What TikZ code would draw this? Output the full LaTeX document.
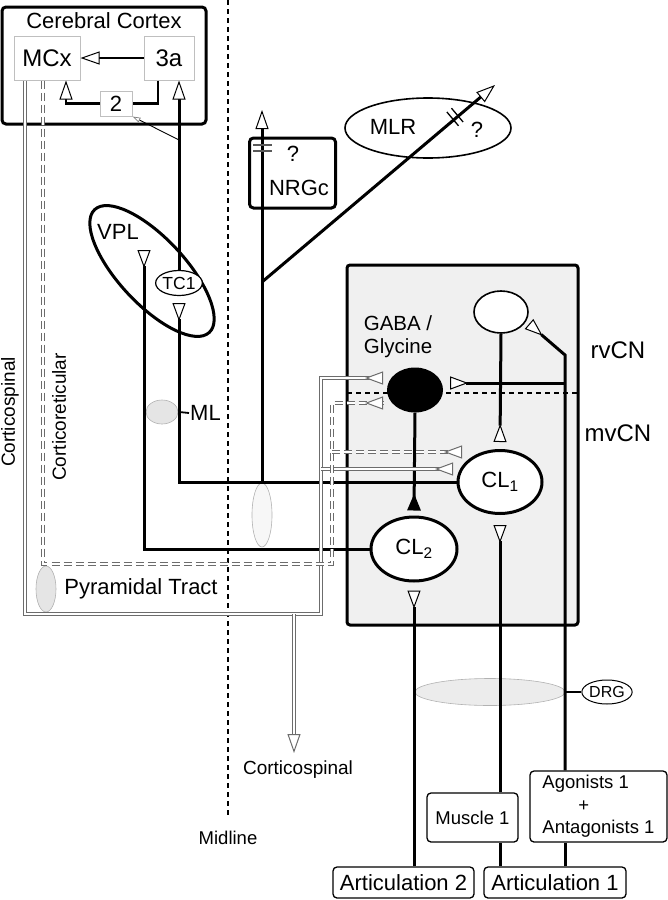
\documentclass[tikz,border=0pt]{standalone}
\usepackage{fontspec}
\setmainfont{Liberation Sans}
\usetikzlibrary{arrows.meta,shapes.geometric,calc}
\tikzset{
  axon/.style={line width=3pt},
  tract/.style={draw=gray!85!black, line width=1.2pt, double=white, double distance=2pt},
  rtract/.style={tract, dash pattern=on 8pt off 4pt},
  syn/.style={-{Triangle[length=19pt,width=13pt,fill=white,line width=1pt]}},
  term/.style={-{Triangle[reversed,length=18pt,width=13pt,fill=white,line width=1pt]}},
  inhib/.style={-{Triangle[reversed,length=17pt,width=13pt]}},
  area/.style={draw=gray!50, line width=1pt, fill=white, inner sep=0pt},
  cell/.style={ellipse, draw, line width=3pt, fill=white, inner sep=0pt},
  blob/.style={ellipse, draw=gray!60, fill=gray!20, line width=.6pt, inner sep=0pt},
  tagbox/.style={draw, rounded corners=4pt, line width=1.3pt, inner sep=0pt},
  bigfont/.style={font=\fontsize{22}{25}\selectfont},
  midfont/.style={font=\fontsize{18.5}{22.5}\selectfont},
}
\begin{document}
\begin{tikzpicture}[x=1pt,y=-1pt]
\useasboundingbox (0,0) rectangle (668,900);
% nucleus box
\node[draw, line width=3pt, fill=gray!12, rounded corners=3pt, minimum width=231pt, minimum height=360pt] (cn) at (462.5,445) {};
\coordinate (dv) at (347,393);
\draw[dash pattern=on 5pt off 4pt, line width=1.2pt] (dv) -- (dv -| cn.east);
\coordinate (midtop) at (228,0);
% cortex
\node[draw, line width=3pt, rounded corners=4pt, minimum width=204pt, minimum height=117pt] (cortex) at (104,65.5) {};
\node[bigfont] at (104,21) {Cerebral Cortex};
\node[area, font=\fontsize{24}{26}\selectfont, minimum width=66pt, minimum height=44pt] (mcx) at (47,58) {MCx};
\node[area, font=\fontsize{24}{26}\selectfont, minimum width=50pt, minimum height=44pt] (a3) at (169,58) {3a};
\node[area, bigfont, minimum width=32pt, minimum height=25pt] (s2) at (116,103.5) {2};
% brainstem targets
\node[draw, line width=3pt, rounded corners=4pt, minimum width=86pt, minimum height=70pt] (nrgc) at (292.5,173) {};
\node[bigfont] at (293,154) {?};
\node[bigfont] at (299,188) {NRGc};
\node[ellipse, draw, line width=1.6pt, minimum width=166pt, minimum height=60pt] (mlr) at (428,128) {};
\node[bigfont] at (393,127) {MLR};
\node[bigfont] at (477,130) {?};
% thalamus
\node[ellipse, draw, line width=3pt, minimum width=168pt, minimum height=66pt, rotate=-47] (vpl) at (152,271) {};
\node[bigfont] at (118,232) {VPL};
\node[ellipse, draw, line width=1.2pt, fill=white, inner sep=0pt, minimum width=43pt, minimum height=25pt, font=\fontsize{17.5}{19}\selectfont] (tc1) at (179,283) {TC1};
\node[blob, minimum width=32pt, minimum height=24pt] (ml) at (162,412) {};
\node[bigfont, inner sep=1pt, anchor=west] (mllab) at (189,413) {ML};
\node[blob, minimum width=20pt, minimum height=46pt] (pyr) at (46,589) {};
\node[bigfont] at (141,589) {Pyramidal Tract};
\node[blob, fill=gray!6, minimum width=20pt, minimum height=64pt] (mbb) at (262,515) {};
\node[font=\fontsize{19}{21}\selectfont, rotate=90] at (10,412) {Corticospinal};
\node[font=\fontsize{19}{21}\selectfont, rotate=90] at (59,417) {Corticoreticular};
% cuneate cells
\node[cell, line width=1.6pt, minimum width=54pt, minimum height=42pt] (rv) at (501,312) {};
\node[ellipse, fill=black, inner sep=0pt, minimum width=56pt, minimum height=45pt] (gaba) at (415,390) {};
\node[font=\fontsize{20.5}{23}\selectfont, align=left] at (398,337) {GABA /\\Glycine};
\node[cell, bigfont, minimum width=84pt, minimum height=63pt] (cl1) at (500,482) {CL\textsubscript{1}};
\node[cell, bigfont, minimum width=86pt, minimum height=64pt] (cl2) at (414,549) {CL\textsubscript{2}};
\node[font=\fontsize{24}{26}\selectfont] at (618,350) {rvCN};
\node[font=\fontsize{24}{26}\selectfont] at (618,433) {mvCN};
% periphery
\node[blob, fill=gray!15, minimum width=150pt, minimum height=27pt] (drgb) at (490,692) {};
\node[ellipse, draw, line width=1pt, inner sep=0pt, minimum width=50pt, minimum height=24pt, font=\fontsize{16}{18}\selectfont] (drg) at (607,692) {DRG};
\node[tagbox, midfont, minimum width=91pt, minimum height=49pt] (muscle) at (472.5,817.5) {Muscle 1};
\node[tagbox, midfont, align=left, minimum width=137pt, minimum height=71pt] (agon) at (598.5,806.5) {Agonists 1\\\hspace*{36pt}+\\Antagonists 1};
\node[tagbox, bigfont, minimum width=141pt, minimum height=31pt] (art2) at (403.5,882.5) {Articulation 2};
\node[tagbox, bigfont, minimum width=142pt, minimum height=31pt] (art1) at (555,882.5) {Articulation 1};
\node[font=\fontsize{19}{21}\selectfont] at (298,770) {Corticospinal};
\node[font=\fontsize{18.5}{21}\selectfont] (midtext) at (228,838) {Midline};
\draw[dash pattern=on 5pt off 4pt, line width=1.3pt] (midtop) -- ([yshift=12pt]midtext.north);

% cortical loop
\draw[line width=2.3pt, syn] (a3) -- (mcx);
\draw[line width=2.3pt] ([xshift=-11pt]a3.south) |- (s2.east);
\draw[line width=2.3pt, syn] (s2.west) -| ([xshift=19pt]mcx.south);
\draw[axon, syn] (tc1.north) -- (tc1.north |- a3.south);
\coordinate (br) at (179,140);
\draw[line width=.9pt, -{Triangle[open,length=8pt,width=5pt,color=gray,line width=.7pt]}] (br) -- (s2.south east);

% lemniscal and cuneothalamic axons
\coordinate (vplend) at (144,250);
\draw[axon, term] (cl2.west) -| (vplend);
\draw[axon, term] (cl1.west) -| ([yshift=-7pt]tc1.south);
\draw (ml.east) ++(1,0) coordinate (mlx);
\draw[line width=1.8pt] (mlx) -- (mllab.west);
\coordinate (rs) at (262,483);
\coordinate (nrgout) at (262,110);
\draw[axon, syn] (rs) -- (nrgout);
\draw[line width=1.3pt, gray!70!black] (253,145) -- (272,145) (253,151) -- (272,151);
\coordinate (mb) at (262,282);
\coordinate (mlrout) at (495,85);
\draw[axon, syn] (mb) -- (mlrout);
\draw[line width=1.3pt] (446.9,112) -- (458.5,125.8) (451.5,108.2) -- (463.1,122);

% inside the nucleus
\draw[axon, term] (rv.south) -- ([yshift=7pt]cl1.north);
\draw[axon, inhib] (gaba.south) -- ([yshift=5pt]cl2.north);
\coordinate (sx) at (565,355);
\coordinate (sg) at (565,383);
\coordinate (rvin) at (529,324);
\draw[axon, term] (agon.north -| sx) -- (sx) -- (rvin);
\draw[axon, term] (sg) -- ($(gaba.east |- sg)+(7,0)$);
\draw[axon] (art1.north -| sx) -- (agon.south -| sx);
\draw[axon, term] (cl1.south |- muscle.north) -- ([yshift=-10pt]cl1.south);
\draw[axon] (cl1.south |- art1.north) -- (cl1.south |- muscle.south);
\draw[axon, term] (cl2.south |- art2.north) -- ([yshift=-8pt]cl2.south);
\draw[line width=1.2pt] (drgb.east) -- (drg.west);

% descending tracts
\coordinate (cs1) at (321,614);
\coordinate (gin1) at (383,378);
\coordinate (cin1) at (453,469);
\coordinate (csout) at (294,753);
\draw[tract, term] ([xshift=-22pt]mcx.south) |- (cs1) |- (gin1);
\draw[tract, term] (cs1 |- cin1) -- (cin1);
\draw[tract, syn] (cs1 -| csout) -- (csout);
\coordinate (cr1) at (332,564);
\coordinate (gin2) at (383,403);
\coordinate (cin2) at (462,452);
\draw[rtract, term] ([xshift=-4pt]mcx.south) |- (cr1) |- (gin2);
\draw[rtract, term] (cr1 |- cin2) -- (cin2);
\end{tikzpicture}
\end{document}
